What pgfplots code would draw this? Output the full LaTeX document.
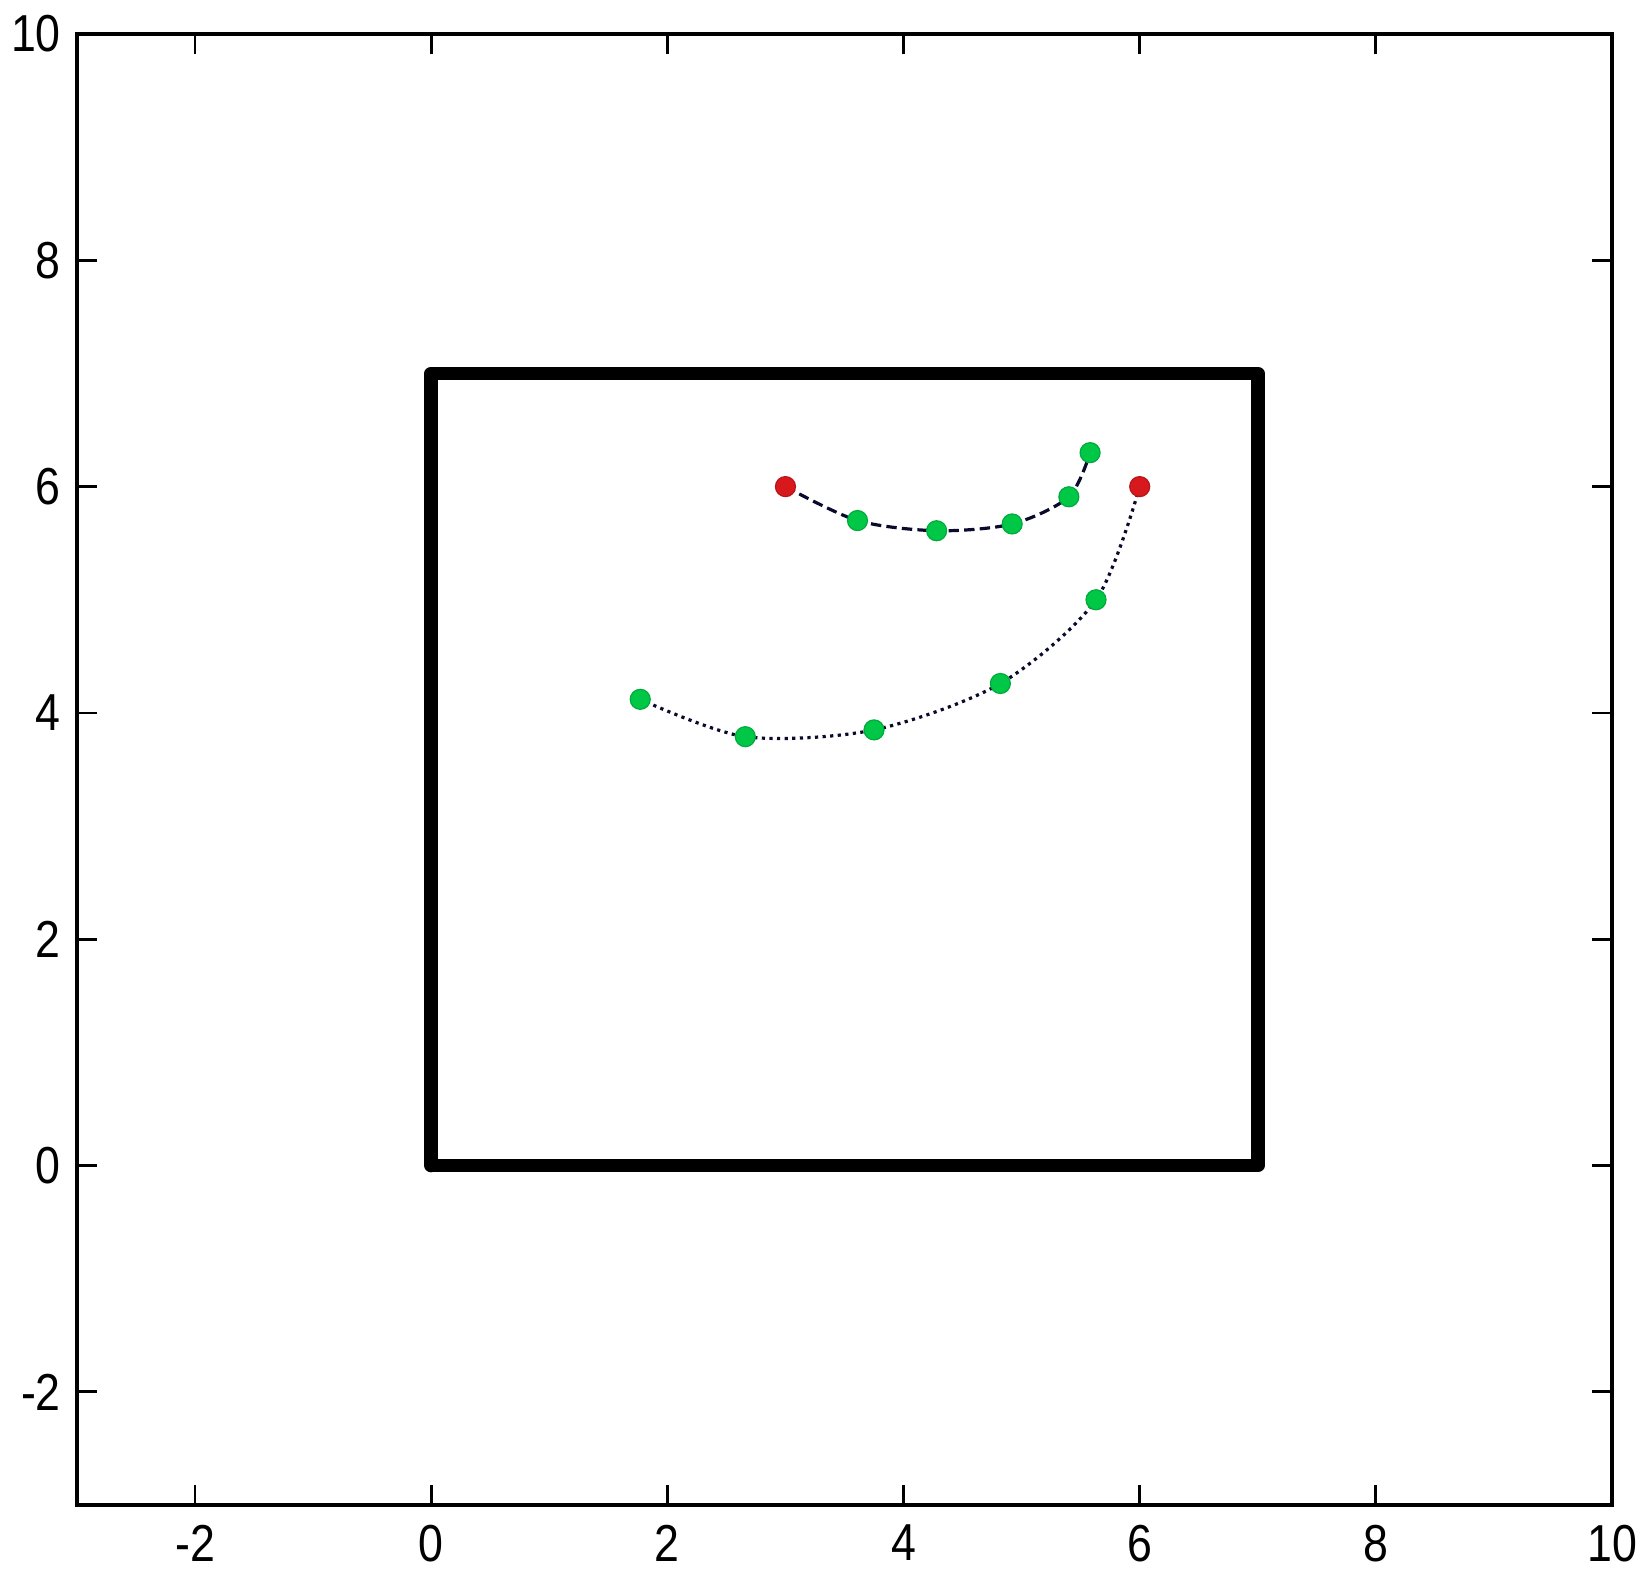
\documentclass[border=0pt]{standalone}
\usepackage{fontspec}
\setmainfont{Liberation Sans}
\newfontfamily\tickfont{Liberation Sans}[FakeStretch=0.86]
\usepackage{pgfplots}
\pgfplotsset{compat=1.18}

\definecolor{ptgreen}{RGB}{0,200,70}
\definecolor{ptred}{RGB}{215,25,30}
\definecolor{curvecol}{RGB}{10,10,45}

\begin{document}
\begin{tikzpicture}
% page size matches the reference proportions (1 px = 0.25pt)
\useasboundingbox (-19.25pt,-20pt) rectangle (393pt,376.25pt);
\begin{axis}[
    at={(0,0)}, anchor=south west,
    scale only axis,
    width=383.75pt, height=367.75pt,
    xmin=-3, xmax=10, ymin=-3, ymax=10,
    xtick={-2,0,2,4,6,8,10},
    ytick={-2,0,2,4,6,8,10},
    xticklabels={-2,0,2,4,6,8,10},
    yticklabels={-2,0,2,4,6,8,10},
    tick align=inside,
    major tick length=5pt,
    every tick/.style={black, line width=0.7pt},
    axis line style={line width=0.8pt},
    tick label style={font=\tickfont\fontsize{13}{15}\selectfont},
    xticklabel style={yshift=-1.5pt},
    yticklabel style={xshift=-0.5pt},
    clip=false,
]
% square boundary
\addplot[black, line width=3.4pt, line join=round, line cap=round] coordinates {
    (0,0) (7,0) (7,7) (0,7) (0,0)
};
% path 1 (dashed)
\addplot[curvecol, line width=0.8pt, smooth, dash pattern=on 2.6pt off 1.3pt] coordinates {
    (3,6) (3.61,5.70) (4.28,5.61) (4.92,5.67) (5.40,5.91) (5.58,6.30)
};
% path 2 (dotted)
\addplot[curvecol, line width=0.8pt, smooth, dash pattern=on 0.8pt off 1.1pt] coordinates {
    (6,6) (5.63,5.00) (4.82,4.26) (3.75,3.85) (2.66,3.79) (1.77,4.12)
};
% intermediate points
\addplot[only marks, mark=*, mark size=2.5pt, ptgreen, mark options={draw=ptgreen!85!black, line width=0.3pt}] coordinates {
    (3.61,5.70) (4.28,5.61) (4.92,5.67) (5.40,5.91) (5.58,6.30)
    (5.63,5.00) (4.82,4.26) (3.75,3.85) (2.66,3.79) (1.77,4.12)
};
% start points
\addplot[only marks, mark=*, mark size=2.5pt, ptred, mark options={draw=ptred!85!black, line width=0.3pt}] coordinates {
    (3,6) (6,6)
};
\end{axis}
\end{tikzpicture}
\end{document}
